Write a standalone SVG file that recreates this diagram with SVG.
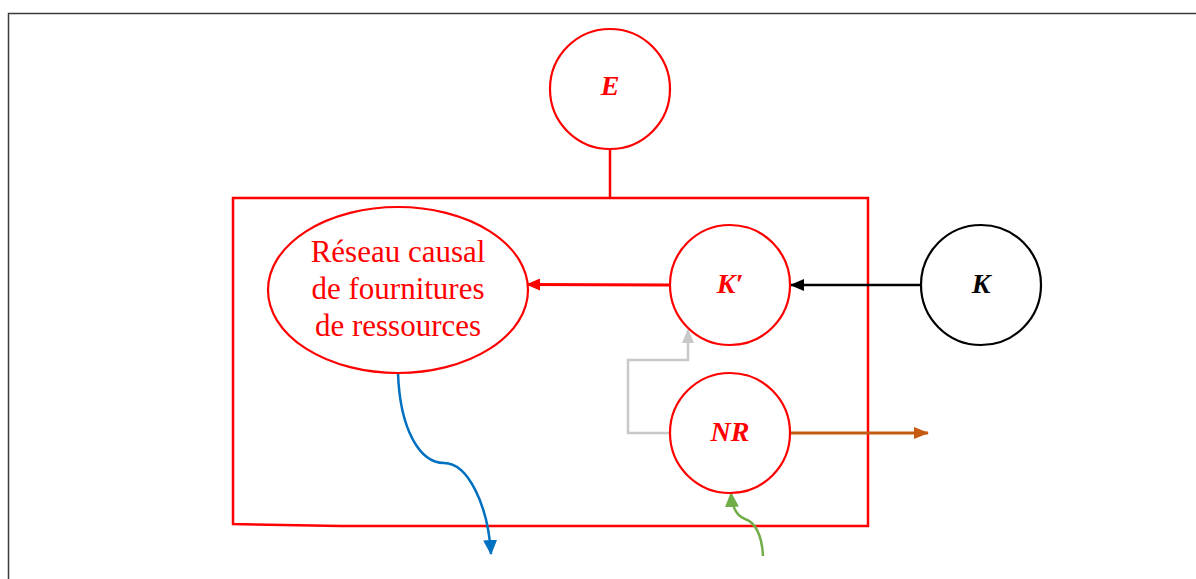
<svg xmlns="http://www.w3.org/2000/svg" width="1196" height="579" viewBox="0 0 1196 579">
<style>
.frame{fill:none;stroke:#3a3a3a;stroke-width:1.5}
.red{fill:none;stroke:#ff0000;stroke-width:2.5}
.nodeR{fill:#fff;stroke:#ff0000;stroke-width:2.2}
.nodeK{fill:#fff;stroke:#000;stroke-width:2.2}
.lbl{font-family:"Liberation Serif",serif;font-weight:bold;font-style:italic;font-size:28px;text-anchor:middle}
.txt{font-family:"Liberation Serif",serif;font-size:31px;fill:#ff0000;text-anchor:middle}
</style>
<defs>
<marker id="aR" markerWidth="14" markerHeight="12" refX="13" refY="6" orient="auto" markerUnits="userSpaceOnUse" viewBox="0 0 14 12"><path d="M0,0 L14,6 L0,12 z" fill="#ff0000"/></marker>
<marker id="aK" markerWidth="14" markerHeight="12" refX="13" refY="6" orient="auto" markerUnits="userSpaceOnUse" viewBox="0 0 14 12"><path d="M0,0 L14,6 L0,12 z" fill="#000"/></marker>
<marker id="aG" markerWidth="14" markerHeight="12" refX="13" refY="6" orient="auto" markerUnits="userSpaceOnUse" viewBox="0 0 14 12"><path d="M0,0 L14,6 L0,12 z" fill="#c8c8c8"/></marker>
<marker id="aO" markerWidth="15" markerHeight="12" refX="14" refY="6" orient="auto" markerUnits="userSpaceOnUse" viewBox="0 0 15 12"><path d="M0,0 L15,6 L0,12 z" fill="#c55a11"/></marker>
<marker id="aB" markerWidth="15" markerHeight="14" refX="14" refY="7" orient="auto" markerUnits="userSpaceOnUse" viewBox="0 0 15 14"><path d="M0,0 L15,7 L0,14 z" fill="#0070c0"/></marker>
<marker id="aV" markerWidth="15" markerHeight="14" refX="14" refY="7" orient="auto" markerUnits="userSpaceOnUse" viewBox="0 0 15 14"><path d="M0,0 L15,7 L0,14 z" fill="#70ad47"/></marker>
</defs>
<rect width="1196" height="579" fill="#fff"/>
<path class="frame" d="M8.5,579 L8.5,13.5 L1196,13.5"/>
<g id="container">
<path class="red" d="M610,150 L610,198"/>
<path class="red" d="M233,198 L868,198 L868,526 L341,526 L233,524 Z"/>
</g>
<g id="connectors">
<path d="M670,285 L527,284.5" fill="none" stroke="#ff0000" stroke-width="3" marker-end="url(#aR)"/>
<path d="M921,285 L791,285" fill="none" stroke="#000" stroke-width="2.5" marker-end="url(#aK)"/>
<path d="M669,433 L628,433 L628,360 L688,360 L688,330" fill="none" stroke="#c8c8c8" stroke-width="2.5" marker-end="url(#aG)"/>
<path d="M791,433 L928,433" fill="none" stroke="#c55a11" stroke-width="3" marker-end="url(#aO)"/>
<path d="M398,373 C400,430 420,463 444,463 C468,463 488,505 491,554" fill="none" stroke="#0070c0" stroke-width="2.5" marker-end="url(#aB)"/>
<path d="M763,556 C762,535 755,522 745,519 C737,516 732,508 731,493" fill="none" stroke="#70ad47" stroke-width="2.5" marker-end="url(#aV)"/>
</g>
<g id="node-E">
<circle class="nodeR" cx="610" cy="89" r="60"/>
<text class="lbl" x="610" y="95" fill="#ff0000">E</text>
</g>
<g id="node-reseau">
<ellipse class="nodeR" cx="398" cy="290" rx="130" ry="83"/>
<text class="txt" x="398" y="262">Réseau causal</text>
<text class="txt" x="398" y="299">de fournitures</text>
<text class="txt" x="398" y="336">de ressources</text>
</g>
<g id="node-Kp">
<circle class="nodeR" cx="730" cy="285" r="60"/>
<text class="lbl" x="730" y="293" fill="#ff0000">K′</text>
</g>
<g id="node-K">
<circle class="nodeK" cx="981" cy="285" r="60"/>
<text class="lbl" x="981" y="293" fill="#000">K</text>
</g>
<g id="node-NR">
<circle class="nodeR" cx="730" cy="433" r="60"/>
<text class="lbl" x="730" y="441" fill="#ff0000">NR</text>
</g>
</svg>
